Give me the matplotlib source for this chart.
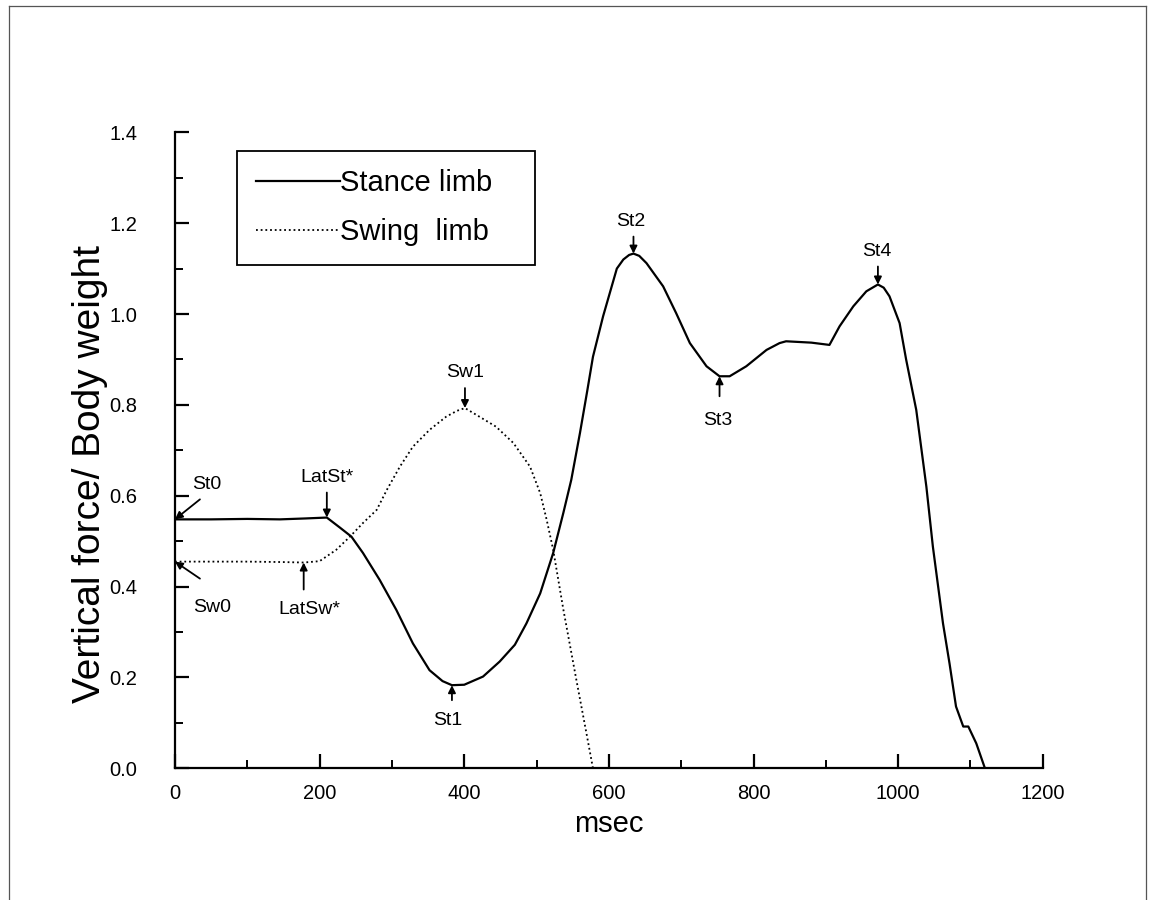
import numpy as np
import matplotlib.pyplot as plt
from matplotlib.lines import Line2D
from matplotlib.ticker import MultipleLocator

plt.rcParams['font.family'] = ['Liberation Sans', 'DejaVu Sans']

# Datos (msec, fuerza vertical / peso corporal)
stance_t = [0, 50, 100, 145, 180, 210, 228, 244, 260, 283, 306, 329, 352, 370,
            383, 400, 426, 449, 470, 486, 505, 523, 537, 548, 560, 570, 578,
            592, 611, 620, 628, 634, 642, 652, 675, 693, 712, 735, 753, 767,
            790, 818, 836, 845, 880, 905, 919, 938, 956, 972, 980, 988, 1002,
            1011, 1025, 1039, 1048, 1062, 1071, 1080, 1090, 1097, 1108, 1120]
stance_f = [0.548, 0.548, 0.549, 0.548, 0.550, 0.552, 0.530, 0.510, 0.474,
            0.415, 0.349, 0.275, 0.216, 0.192, 0.183, 0.184, 0.202, 0.235,
            0.272, 0.319, 0.385, 0.474, 0.562, 0.635, 0.738, 0.830, 0.906,
            0.995, 1.100, 1.120, 1.130, 1.133, 1.128, 1.112, 1.061, 1.002,
            0.936, 0.885, 0.863, 0.863, 0.885, 0.921, 0.936, 0.940, 0.937,
            0.932, 0.973, 1.017, 1.050, 1.065, 1.058, 1.039, 0.980, 0.900,
            0.789, 0.620, 0.488, 0.319, 0.231, 0.136, 0.092, 0.092, 0.055, 0.0]

swing_t = [0, 50, 100, 150, 178, 200, 223, 242, 260, 279, 293, 311, 329, 352,
           375, 390, 401, 421, 444, 468, 491, 505, 514, 523, 537, 555, 569, 578]
swing_f = [0.455, 0.455, 0.455, 0.454, 0.453, 0.456, 0.481, 0.510, 0.540,
           0.569, 0.613, 0.664, 0.708, 0.745, 0.774, 0.787, 0.793, 0.774,
           0.752, 0.716, 0.664, 0.606, 0.547, 0.481, 0.350, 0.195, 0.077, 0.0]

# Eventos: (etiqueta, curva, tiempo, cola flecha dx, dy, texto dx, dy) en px
events = [
    ('St0', 'st', 0, 25, 20, 32, 35),
    ('Sw0', 'sw', 0, 25, -17, 37, -46),
    ('LatSt*', 'st', 210, 0, 25, 0, 40),
    ('LatSw*', 'sw', 178, 0, -27, 6, -47),
    ('St1', 'st', 383, 0, -15, -4, -35),
    ('Sw1', 'sw', 401, 0, 20, 0, 36),
    ('St2', 'st', 634, 0, 17, -3, 32),
    ('St3', 'st', 753, 0, -20, -2, -44),
    ('St4', 'st', 972, 0, 18, -1, 33),
]

fig = plt.figure(figsize=(11.51, 9), dpi=100)
ax = fig.add_axes([0.152, 0.1463, 0.754, 0.7067])

ax.plot(stance_t, stance_f, color='k', lw=1.6, label='Stance limb')
ax.plot(swing_t, swing_f, color='k', lw=1.3, linestyle=(0, (1, 1.6)),
        label='Swing  limb')

px = 72 / 100  # pixeles a puntos
for lab, cur, t, adx, ady, tdx, tdy in events:
    if cur == 'st':
        v = np.interp(t, stance_t, stance_f)
    else:
        v = np.interp(t, swing_t, swing_f)
    ax.annotate('', xy=(t, v), xytext=(adx * px, ady * px),
                textcoords='offset points',
                arrowprops=dict(arrowstyle='-|>', color='k', lw=1.3,
                                mutation_scale=11, shrinkA=0, shrinkB=0))
    ax.annotate(lab, xy=(t, v), xytext=(tdx * px, tdy * px),
                textcoords='offset points', ha='center', va='center',
                fontsize=14)

ax.set_xlim(0, 1200)
ax.set_ylim(0, 1.4)
ax.xaxis.set_major_locator(MultipleLocator(200))
ax.xaxis.set_minor_locator(MultipleLocator(100))
ax.yaxis.set_major_locator(MultipleLocator(0.2))
ax.yaxis.set_minor_locator(MultipleLocator(0.1))
ax.yaxis.set_major_formatter(plt.FuncFormatter(lambda v, p: f'{v:.1f}'))

for s in ['top', 'right']:
    ax.spines[s].set_visible(False)
for s in ['left', 'bottom']:
    ax.spines[s].set_linewidth(1.6)

ax.tick_params(which='major', direction='in', length=10, width=1.6,
               labelsize=14.5)
ax.tick_params(which='minor', direction='in', length=5.5, width=1.4)
ax.tick_params(axis='x', which='major', pad=11)
ax.tick_params(axis='y', which='major', pad=27)

ax.set_xlabel('msec', fontsize=21)
ax.set_ylabel('Vertical force/ Body weight', fontsize=28)
ax.xaxis.set_label_coords(0.5, -0.066)
ax.yaxis.set_label_coords(-0.077, 0.462)

leg = ax.legend(loc='upper left', bbox_to_anchor=(0.072, 0.792, 0.343, 0.178),
                mode='expand', borderaxespad=0, fancybox=False, frameon=True,
                edgecolor='k', framealpha=1, fontsize=21, handlelength=2.9,
                handletextpad=0, labelspacing=0.72, borderpad=0.62)
leg.get_frame().set_linewidth(1.3)

# marco exterior de la figura
for xs, ys in [([0.008, 0.008], [0, 0.993]),
               ([0.008, 0.996], [0.993, 0.993]),
               ([0.996, 0.996], [0, 0.993])]:
    fig.add_artist(Line2D(xs, ys, transform=fig.transFigure,
                          color='#555555', lw=0.9))

plt.savefig('out.png', dpi=100)
